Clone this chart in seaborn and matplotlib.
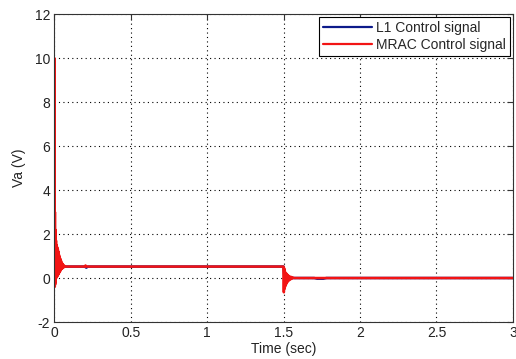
import matplotlib
matplotlib.use("Agg")
import matplotlib.pyplot as plt
import seaborn as sns
import pandas as pd

# ---- data ----
mrac_start_t = [0.000, 0.001, 0.002, 0.003, 0.004, 0.005, 0.006, 0.007, 0.008, 0.009,
                0.010, 0.012, 0.014, 0.016, 0.018, 0.020, 0.022, 0.024, 0.026, 0.028,
                0.030, 0.032, 0.034, 0.036, 0.038, 0.040, 0.042, 0.044, 0.046, 0.048,
                0.050, 0.053, 0.056, 0.059, 0.062, 0.066, 0.070, 0.200, 0.205, 0.210]
mrac_start_v = [0.0, 10.0, -0.2, 4.7, -0.4, 3.0, -0.3, 2.2, -0.2, 1.9,
                -0.1, 1.7, 0.0, 1.5, 0.05, 1.4, 0.1, 1.3, 0.15, 1.2,
                0.2, 1.05, 0.25, 0.95, 0.3, 0.88, 0.35, 0.8, 0.4, 0.72,
                0.42, 0.66, 0.45, 0.6, 0.48, 0.56, 0.52, 0.52, 0.57, 0.52]
mrac_step_t = [1.499, 1.500, 1.502, 1.504, 1.506, 1.508, 1.510, 1.513, 1.516, 1.519,
               1.522, 1.525, 1.529, 1.533, 1.537, 1.541, 1.546, 1.551, 1.556, 1.562,
               1.570, 3.000]
mrac_step_v = [0.52, 0.52, -0.65, 0.45, -0.5, 0.35, -0.4, 0.25, -0.3, 0.2,
               -0.22, 0.15, -0.15, 0.1, -0.1, 0.07, -0.06, 0.05, -0.03, 0.02,
               0.0, 0.0]
l1_t = [0.000, 0.003, 0.010, 0.030, 0.200, 0.210, 0.220, 1.500, 1.505, 1.520,
        1.700, 1.720, 1.760, 1.780, 3.000]
l1_v = [0.0, 0.57, 0.53, 0.52, 0.52, 0.47, 0.52, 0.52, 0.05, 0.0,
        0.0, -0.03, -0.03, 0.0, 0.0]

series_names = ["L1 Control signal", "MRAC Control signal"]
x_ticks = [0, 0.5, 1, 1.5, 2, 2.5, 3]
x_tick_labels = ["0", "0.5", "1", "1.5", "2", "2.5", "3"]
y_ticks = [-2, 0, 2, 4, 6, 8, 10, 12]

df = pd.concat([
    pd.DataFrame({"t": l1_t, "v": l1_v, "s": series_names[0]}),
    pd.DataFrame({"t": mrac_start_t + mrac_step_t, "v": mrac_start_v + mrac_step_v,
                  "s": series_names[1]}),
], ignore_index=True)

sns.set_style("white")
plt.rcParams["font.family"] = ["Liberation Sans", "DejaVu Sans"]
plt.rcParams["axes.unicode_minus"] = False

fig = plt.figure(figsize=(5.16, 3.59), dpi=100)
ax = fig.add_axes([0.105, 0.103, 0.889, 0.858])

sns.lineplot(data=df, x="t", y="v", hue="s", estimator=None, sort=False,
             palette={series_names[0]: "#0c1a8a", series_names[1]: "#f21414"},
             linewidth=1.8, ax=ax)

ax.set_xlim(0, 3)
ax.set_ylim(-2, 12)
ax.set_xticks(x_ticks)
ax.set_xticklabels(x_tick_labels)
ax.set_yticks(y_ticks)
ax.grid(True, color="black", linestyle=(0, (1, 3)), linewidth=0.8)
ax.tick_params(direction="in", length=4, width=0.8, top=True, right=True,
               labelsize=10, labelcolor="#222222", colors="#333333", pad=3)
for sp in ax.spines.values():
    sp.set_color("#333333")
    sp.set_linewidth(0.8)
ax.set_xlabel("Time (sec)", fontsize=10, color="#222222", labelpad=1)
ax.set_ylabel("Va (V)", fontsize=10, color="#222222", labelpad=6)

leg = ax.legend(loc="upper right", fontsize=10, frameon=True, fancybox=False,
                edgecolor="black", framealpha=1, handlelength=3.5,
                borderpad=0.3, labelspacing=0.2, handletextpad=0.3,
                borderaxespad=0.2)
leg.get_frame().set_linewidth(0.8)
for line in leg.get_lines():
    line.set_linewidth(1.6)

fig.savefig("out.png", dpi=100)
